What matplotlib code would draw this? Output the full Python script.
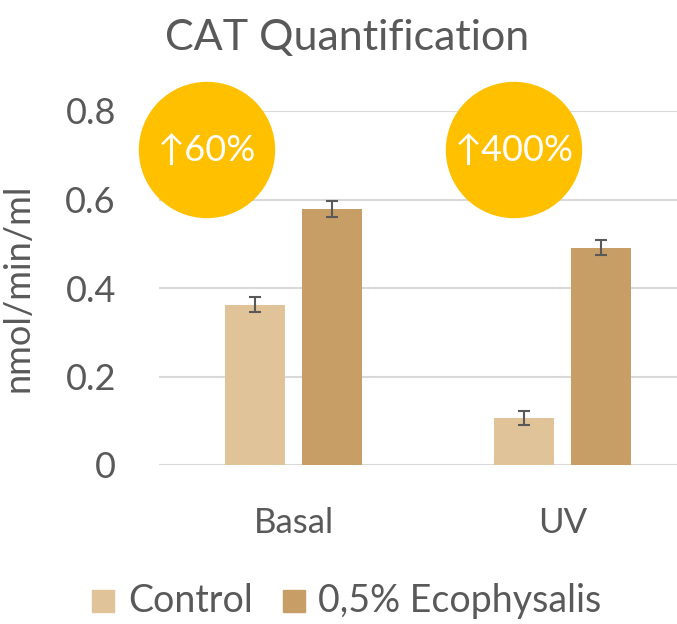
import matplotlib
matplotlib.use("Agg")
import matplotlib.pyplot as plt
from matplotlib.patches import Circle, Rectangle
import numpy as np

categories = ["Basal", "UV"]
series_names = ["Control", "0,5% Ecophysalis"]
control = [0.362, 0.106]
treated = [0.578, 0.491]
control_err = [0.017, 0.016]
treated_err = [0.018, 0.017]
badges = ["↑60%", "↑400%"]
yticks = [0, 0.2, 0.4, 0.6, 0.8]
ytick_labels = ["0", "0.2", "0.4", "0.6", "0.8"]

plt.rcParams['font.family'] = ['Lato', 'DejaVu Sans']
GRAY = "#595959"
C_CTRL = "#E0C398"
C_TRT = "#C69E66"
GOLD = "#FFC000"

W, H = 677, 624
fig = plt.figure(figsize=(W/100, H/100), dpi=100)
ax_left, ax_right, ax_bot, ax_top = 159, 677, 465, 111
ax = fig.add_axes([ax_left/W, 1-ax_bot/H, (ax_right-ax_left)/W, (ax_bot-ax_top)/H])

px_per_unit = 269.0
center0 = 293.5
ax.set_xlim((ax_left-center0)/px_per_unit, (ax_right-center0)/px_per_unit)
ax.set_ylim(0, 0.8)

x = np.arange(len(categories))
bw = 60/px_per_unit
off = 38.5/px_per_unit
ax.bar(x-off, control, bw, color=C_CTRL, zorder=3, label=series_names[0])
ax.bar(x+off, treated, bw, color=C_TRT, zorder=3, label=series_names[1])
ax.errorbar(x-off, control, yerr=control_err, fmt='none', ecolor=GRAY, elinewidth=1.5, capsize=4.5, capthick=1.5, zorder=4)
ax.errorbar(x+off, treated, yerr=treated_err, fmt='none', ecolor=GRAY, elinewidth=1.5, capsize=4.5, capthick=1.5, zorder=4)

ax.set_yticks(yticks)
ax.set_yticklabels(ytick_labels)
ax.set_xticks(x)
ax.set_xticklabels(categories)
ax.yaxis.grid(True, color="#D9D9D9", linewidth=1.5, zorder=0)
ax.set_axisbelow(True)
for s in ax.spines.values():
    s.set_visible(False)
ax.tick_params(axis='both', length=0, labelcolor=GRAY)
ax.tick_params(axis='y', pad=31, labelsize=26)
ax.tick_params(axis='x', pad=30, labelsize=25)
ax.set_ylabel("nmol/min/ml", fontsize=26, color=GRAY)
ax.yaxis.set_label_coords((35-ax_left)/(ax_right-ax_left), 0.5)

fig.text(347/W, 1-38/H, "CAT Quantification", ha='center', va='center', fontsize=31, color=GRAY)

# badges
for cx, txt in zip([207, 514], badges):
    circ = Circle((cx/100, (H-150)/100), 0.675, transform=fig.dpi_scale_trans, color=GOLD, zorder=10)
    fig.add_artist(circ)
    fig.text(cx/W, 1-150/H, txt, ha='center', va='center', fontsize=26, color='white', zorder=11)

# legend
for (sx, col, lab, tx) in [(92, C_CTRL, series_names[0], 128), (283, C_TRT, series_names[1], 318)]:
    fig.add_artist(Rectangle((sx/W, 1-612/H), 22/W, 22/H, transform=fig.transFigure, color=col))
    fig.text(tx/W, 1-601/H, lab, ha='left', va='center', fontsize=27, color=GRAY)

fig.savefig("out.png", dpi=100)
